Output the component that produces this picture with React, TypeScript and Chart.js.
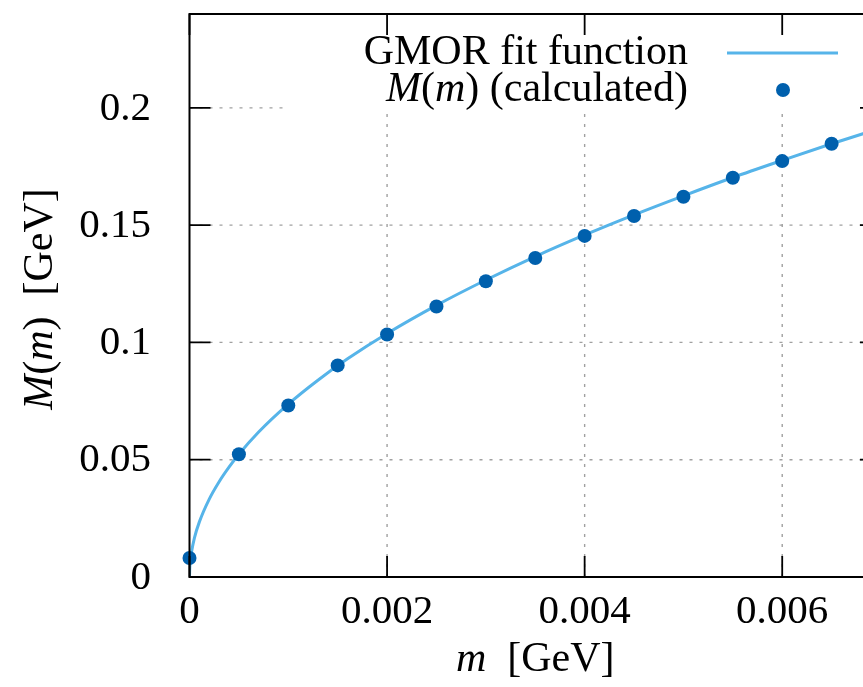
import React, { useEffect, useRef } from "react";
import { Chart, registerables } from "chart.js";

Chart.register(...registerables);

// ---- data ----
const massValues = [0, 0.0005, 0.001, 0.0015, 0.002, 0.0025, 0.003, 0.0035, 0.004, 0.0045, 0.005, 0.0055, 0.006, 0.0065];
const calculatedM = [0.0081, 0.0523, 0.0731, 0.0902, 0.1034, 0.1153, 0.1261, 0.136, 0.1454, 0.1539, 0.1621, 0.1702, 0.1773, 0.1847];

const fitMass = [0, 0.000002, 0.00001, 0.00002, 0.00005, 0.0001, 0.0002, 0.0003, 0.0004, 0.0005, 0.0007, 0.001, 0.0013, 0.0016, 0.002, 0.0025, 0.003, 0.0035, 0.004, 0.0045, 0.005, 0.0055, 0.006, 0.0065, 0.007];
const fitM = [0, 0.0033, 0.0075, 0.0105, 0.0167, 0.0235, 0.0332, 0.0406, 0.0468, 0.0523, 0.0618, 0.0737, 0.0839, 0.093, 0.1038, 0.1158, 0.1266, 0.1366, 0.1458, 0.1544, 0.1625, 0.1703, 0.1776, 0.1847, 0.1914];

const xTicks = [0, 0.002, 0.004, 0.006];
const xTickLabels = ["0", "0.002", "0.004", "0.006"];
const yTicks = [0, 0.05, 0.1, 0.15, 0.2];
const yTickLabels = ["0", "0.05", "0.1", "0.15", "0.2"];

const legendFit = "GMOR fit function";
const legendCalcTail = " (calculated)";

const FONT = '"Liberation Serif", "Times New Roman", serif';
const LINE_COLOR = "#56b4e9";
const POINT_COLOR = "#0060ad";

type Part = { t: string; i?: boolean };

function drawRich(ctx: CanvasRenderingContext2D, parts: Part[], x: number, y: number, align: "left" | "right" | "center", size: number) {
  let total = 0;
  const widths = parts.map((p) => {
    ctx.font = `${p.i ? "italic " : ""}${size}px ${FONT}`;
    const w = ctx.measureText(p.t).width;
    total += w;
    return w;
  });
  let cx = align === "left" ? x : align === "right" ? x - total : x - total / 2;
  ctx.textAlign = "left";
  ctx.textBaseline = "middle";
  parts.forEach((p, k) => {
    ctx.font = `${p.i ? "italic " : ""}${size}px ${FONT}`;
    ctx.fillText(p.t, cx, y);
    cx += widths[k];
  });
}

const customPlugin = {
  id: "gnuplotStyle",
  beforeDatasetsDraw(chart: any) {
    const { ctx, chartArea, scales } = chart;
    const { left, right, top, bottom } = chartArea;
    const xs = scales.x;
    const ys = scales.y;
    ctx.save();
    ctx.strokeStyle = "#a0a0a0";
    ctx.lineWidth = 1.4;
    ctx.setLineDash([3, 7]);
    yTicks.forEach((v) => {
      if (v === 0) return;
      const py = ys.getPixelForValue(v);
      ctx.beginPath();
      ctx.moveTo(left, py);
      ctx.lineTo(right, py);
      ctx.stroke();
    });
    xTicks.forEach((v) => {
      if (v === 0) return;
      const px = xs.getPixelForValue(v);
      ctx.beginPath();
      ctx.moveTo(px, bottom);
      ctx.lineTo(px, top);
      ctx.stroke();
    });
    ctx.setLineDash([]);
    // opaque legend box
    ctx.fillStyle = "#ffffff";
    ctx.fillRect(283, top, right - 283, 109.5 - top);
    ctx.restore();
  },
  afterDatasetsDraw(chart: any) {
    const { ctx, chartArea, scales } = chart;
    const { left, right, top, bottom } = chartArea;
    const xs = scales.x;
    const ys = scales.y;
    ctx.save();
    ctx.fillStyle = "#000";
    ctx.strokeStyle = "#000";
    // ticks (inward)
    ctx.lineWidth = 1.8;
    const tl = 21;
    xTicks.forEach((v) => {
      const px = xs.getPixelForValue(v);
      ctx.beginPath();
      ctx.moveTo(px, bottom);
      ctx.lineTo(px, bottom - tl);
      ctx.moveTo(px, top);
      ctx.lineTo(px, top + tl);
      ctx.stroke();
    });
    yTicks.forEach((v) => {
      const py = ys.getPixelForValue(v);
      ctx.beginPath();
      ctx.moveTo(left, py);
      ctx.lineTo(left + tl, py);
      ctx.moveTo(right, py);
      ctx.lineTo(right - tl, py);
      ctx.stroke();
    });
    // border
    ctx.lineWidth = 2;
    ctx.strokeRect(left, top, right - left, bottom - top);

    // tick labels
    ctx.font = `41px ${FONT}`;
    ctx.textBaseline = "middle";
    ctx.textAlign = "center";
    xTicks.forEach((v, k) => {
      ctx.fillText(xTickLabels[k], xs.getPixelForValue(v), 612);
    });
    ctx.textAlign = "right";
    yTicks.forEach((v, k) => {
      ctx.fillText(yTickLabels[k], 151, ys.getPixelForValue(v) + 1);
    });

    // axis titles
    drawRich(ctx, [{ t: "m", i: true }, { t: "  [GeV]" }], (left + right) / 2, 660, "center", 42);
    ctx.save();
    ctx.translate(41, 299);
    ctx.rotate(-Math.PI / 2);
    drawRich(ctx, [{ t: "M", i: true }, { t: "(" }, { t: "m", i: true }, { t: ")" }, { t: "  [GeV]" }], 0, 0, "center", 42);
    ctx.restore();

    // legend
    ctx.fillStyle = "#000";
    drawRich(ctx, [{ t: legendFit }], 688, 53, "right", 42);
    drawRich(ctx, [{ t: "M", i: true }, { t: "(" }, { t: "m", i: true }, { t: ")" }, { t: legendCalcTail }], 688, 90, "right", 42);
    ctx.strokeStyle = LINE_COLOR;
    ctx.lineWidth = 3;
    ctx.beginPath();
    ctx.moveTo(727, 53);
    ctx.lineTo(838, 53);
    ctx.stroke();
    ctx.fillStyle = POINT_COLOR;
    ctx.beginPath();
    ctx.arc(783, 90, 7, 0, Math.PI * 2);
    ctx.fill();
    ctx.restore();
  },
};

export default function App() {
  const ref = useRef<HTMLCanvasElement | null>(null);
  useEffect(() => {
    if (!ref.current) return;
    const chart = new Chart(ref.current, {
      type: "scatter",
      data: {
        datasets: [
          {
            label: "M(m) (calculated)",
            data: massValues.map((m, k) => ({ x: m, y: calculatedM[k] })),
            pointRadius: 7,
            pointHoverRadius: 7,
            pointBackgroundColor: POINT_COLOR,
            pointBorderWidth: 0,
            borderWidth: 0,
            showLine: false,
            order: 0,
            clip: false,
          } as any,
          {
            label: legendFit,
            data: fitMass.map((m, k) => ({ x: m, y: fitM[k] })),
            showLine: true,
            borderColor: LINE_COLOR,
            borderWidth: 3,
            pointRadius: 0,
            pointHoverRadius: 0,
            cubicInterpolationMode: "monotone",
            order: 1,
          } as any,
        ],
      },
      options: {
        responsive: false,
        animation: false,
        events: [],
        layout: { padding: { top: 14, right: 79, left: 0, bottom: 0 } },
        plugins: { legend: { display: false }, tooltip: { enabled: false } },
        scales: {
          x: {
            type: "linear",
            min: 0,
            max: 0.007,
            grid: { display: false },
            border: { display: false },
            ticks: { display: false },
            afterFit: (s: any) => {
              s.height = 110;
            },
          },
          y: {
            type: "linear",
            min: 0,
            max: 0.24,
            grid: { display: false },
            border: { display: false },
            ticks: { display: false },
            afterFit: (s: any) => {
              s.width = 189.5;
            },
          },
        },
      },
      plugins: [customPlugin],
    });
    return () => chart.destroy();
  }, []);
  return (
    <div style={{ position: "fixed", left: 0, top: 0, width: 863, height: 687, overflow: "hidden", background: "#fff" }}>
      <canvas ref={ref} width={960} height={687} style={{ display: "block" }} />
    </div>
  );
}
